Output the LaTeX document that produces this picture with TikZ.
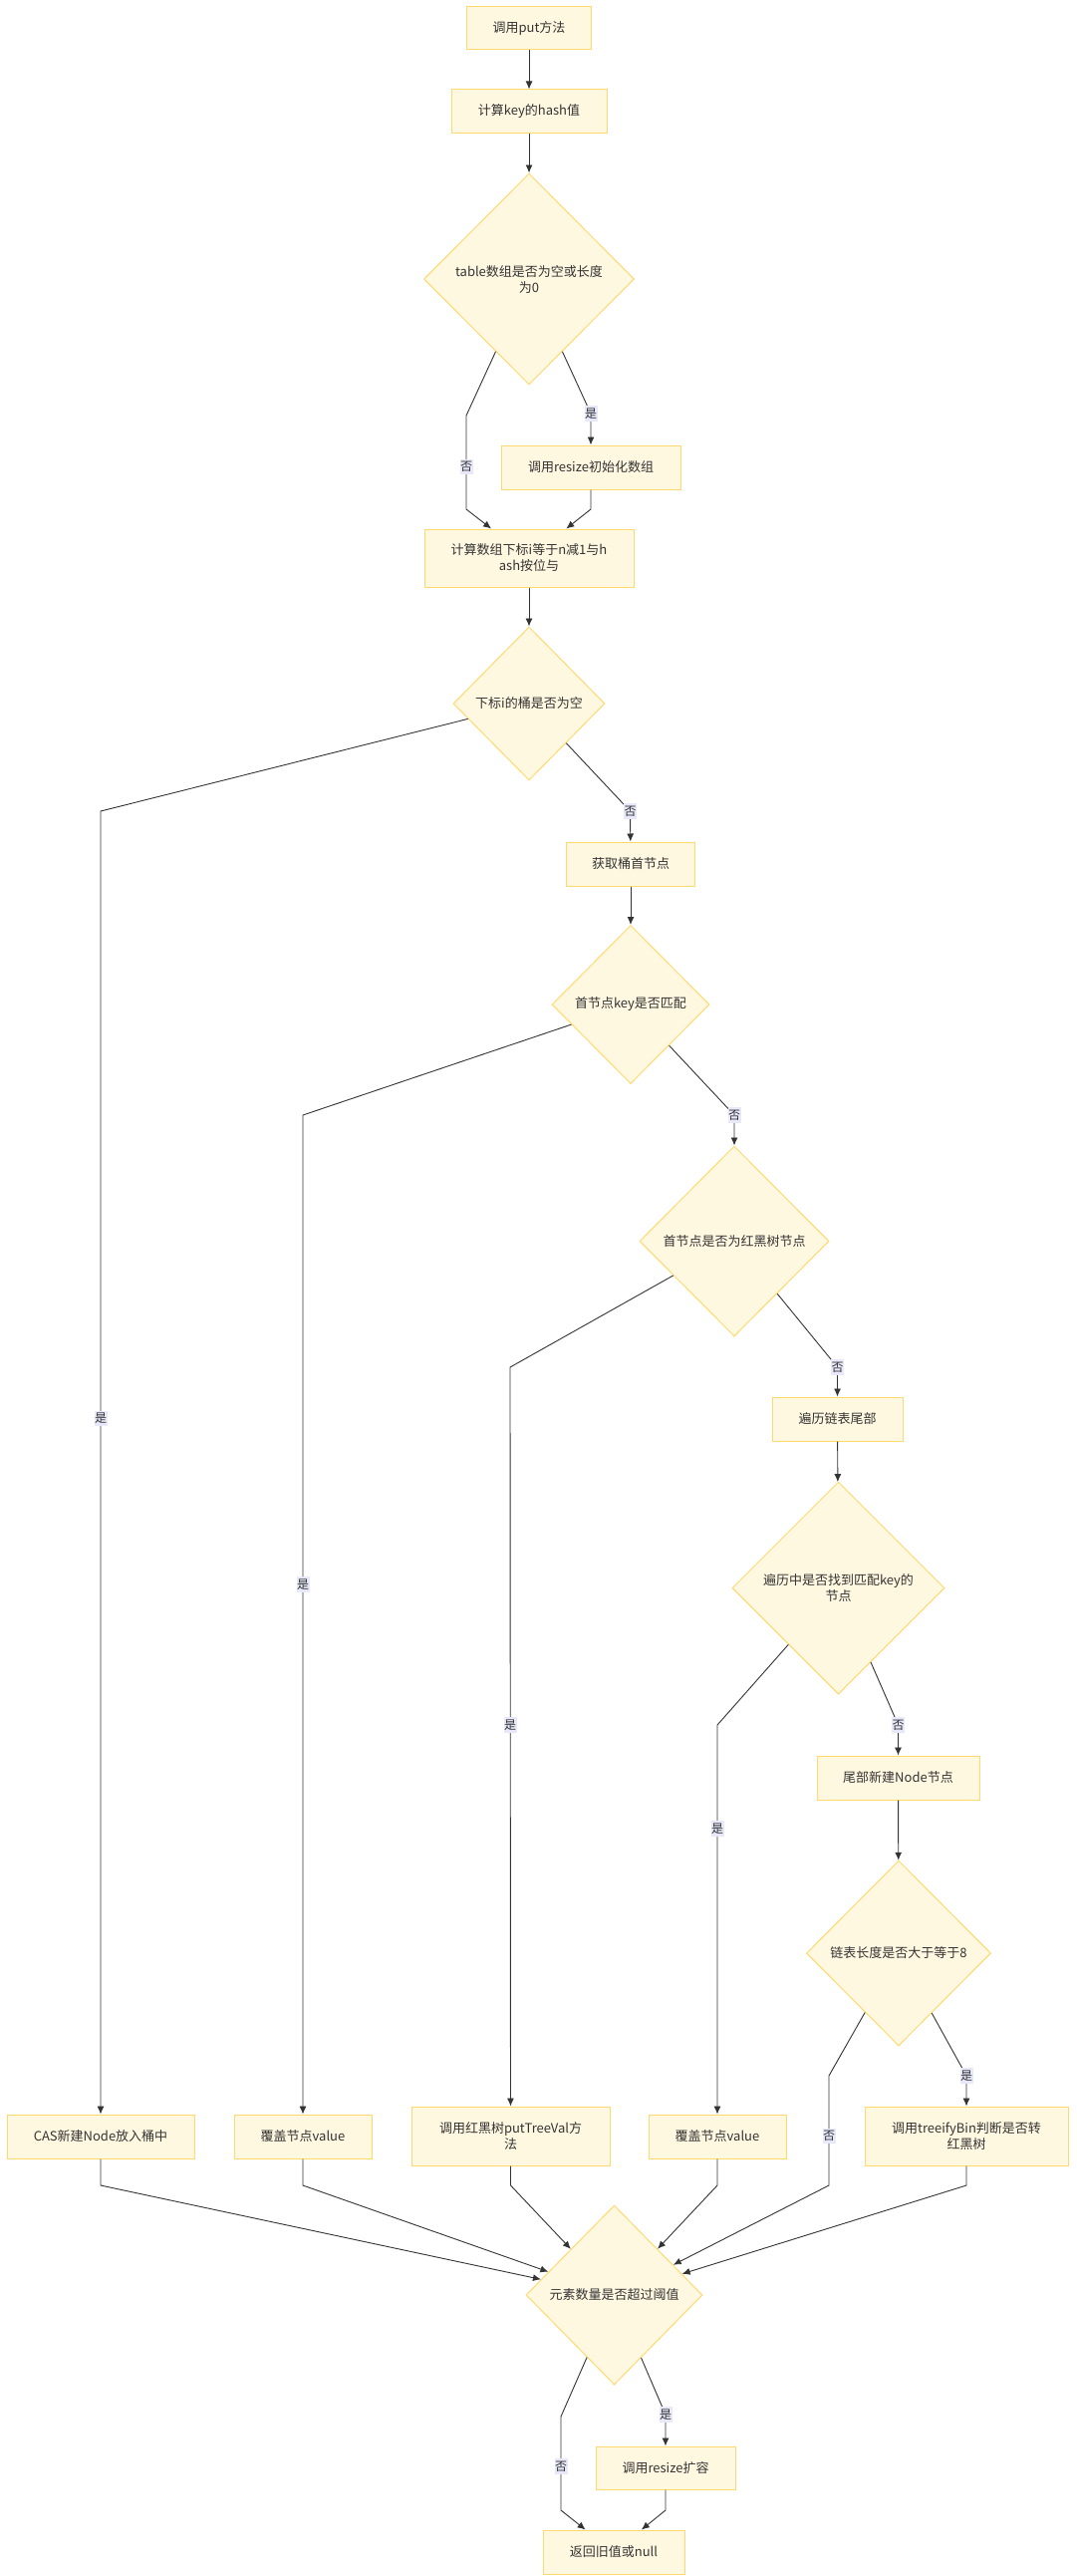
\documentclass[tikz,border=0pt]{standalone}
\usepackage{fontspec}
\usetikzlibrary{shapes.geometric,arrows.meta}
\newfontfamily\cjk{Noto Sans CJK SC}
\definecolor{nodefill}{HTML}{FFF8E1}
\definecolor{nodeline}{HTML}{FFD970}
\definecolor{edgeline}{HTML}{333333}
\definecolor{labelbg}{HTML}{E8E8FA}

\begin{document}
\begin{tikzpicture}[x=1pt, y=-1pt,
		font=\cjk\fontsize{13}{16}\selectfont, text=edgeline,
		box/.style={rectangle, fill=nodefill, draw=nodeline, line width=1pt, inner sep=0pt, align=center},
		choice/.style={diamond, fill=nodefill, draw=nodeline, line width=1pt, inner sep=0pt, align=center},
		flow/.style={draw=edgeline, line width=0.9pt, -{Latex[length=8pt,width=7pt]}},
		lbl/.style={fill=labelbg, inner xsep=0.5pt, inner ysep=2.5pt, font=\cjk\fontsize{12}{14}\selectfont}]
		\useasboundingbox (0,0) rectangle (1080,2585);

		\node[box, minimum width=125, minimum height=43] (S) at (531,28) {调用put方法};
		\node[box, minimum width=156, minimum height=44] (H) at (531,112) {计算key的hash值};
		\node[choice, minimum width=211, minimum height=212] (D1) at (531,280) {table数组是否为空或长度\\为0};
		\node[box, minimum width=180, minimum height=44] (R1) at (593,469) {调用resize初始化数组};
		\node[box, minimum width=210, minimum height=58] (IX) at (531,560) {计算数组下标i等于n减1与h\\ash按位与};
		\node[choice, minimum width=152, minimum height=154] (D2) at (531,706) {下标i的桶是否为空};
		\node[box, minimum width=129, minimum height=44] (G1) at (633,867) {获取桶首节点};
		\node[choice, minimum width=158, minimum height=159] (D3) at (633,1008) {首节点key是否匹配};
		\node[choice, minimum width=190, minimum height=191] (D4) at (737,1245.5) {首节点是否为红黑树节点};
		\node[box, minimum width=131, minimum height=44] (W1) at (840.5,1424) {遍历链表尾部};
		\node[choice, minimum width=213, minimum height=213] (D5) at (841.5,1593.5) {遍历中是否找到匹配key的\\节点};
		\node[box, minimum width=163, minimum height=44] (N1) at (901.5,1784) {尾部新建Node节点};
		\node[choice, minimum width=185, minimum height=186] (D6) at (902,1960) {链表长度是否大于等于8};

		\node[box, minimum width=188, minimum height=44] (C1) at (101,2144) {CAS新建Node放入桶中};
		\node[box, minimum width=138, minimum height=44] (V1) at (304,2144) {覆盖节点value};
		\node[box, minimum width=199, minimum height=59] (T1) at (512.5,2143.5) {调用红黑树putTreeVal方\\法};
		\node[box, minimum width=138, minimum height=44] (V2) at (720,2144) {覆盖节点value};
		\node[box, minimum width=204, minimum height=59] (TB) at (970,2143.5) {调用treeifyBin判断是否转\\红黑树};

		\node[choice, minimum width=177, minimum height=180] (D7) at (616.5,2303) {元素数量是否超过阈值};
		\node[box, minimum width=140, minimum height=43] (RZ) at (668,2476.5) {调用resize扩容};
		\node[box, minimum width=142, minimum height=44] (E) at (616,2561) {返回旧值或null};

		\draw [flow] (S) -- (H);
		\draw [flow] (H) -- (D1);
		\draw [flow] (D1) -- (593,415) node[lbl] (L1) {是} -- (R1);
		\draw [flow] (D1) -- (468,417) -- node[lbl, pos=0.55] (L2) {否} (468,511) -- (IX);
		\draw [flow] (R1.south) -- (593,511) -- (IX);
		\draw [flow] (IX) -- (D2);
		\draw [flow] (D2) -- (101,814) -- node[lbl, pos=0.466] (L3) {是} (C1);
		\draw [flow] (D2) -- (632.5,814) node[lbl] (L4) {否} -- (G1);
		\draw [flow] (G1) -- (D3);
		\draw [flow] (D3) -- (304,1119) -- node[lbl, pos=0.47] (L5) {是} (V1);
		\draw [flow] (D3) -- (737,1119) node[lbl] (L6) {否} -- (D4);
		\draw [flow] (D4) -- (512,1372) -- node[lbl, pos=0.484] (L7) {是} (T1);
		\draw [flow] (D4) -- (840.5,1372) node[lbl] (L8) {否} -- (W1);
		\draw [flow] (W1) -- (D5);
		\draw [flow] (D5) -- (720,1731) -- node[lbl, pos=0.266] (L9) {是} (V2);
		\draw [flow] (D5) -- (901.5,1731) node[lbl] (L10) {否} -- (N1);
		\draw [flow] (N1) -- (D6);
		\draw [flow] (D6) -- (832,2083) -- node[lbl, pos=0.55] (L11) {否} (832,2193) -- (D7);
		\draw [flow] (D6) -- (970,2083) node[lbl] (L12) {是} -- (TB);

		\draw [flow] (C1) -- (101,2193) -- (D7);
		\draw [flow] (V1) -- (304,2193) -- (D7);
		\draw [flow] (T1) -- (512.5,2193) -- (D7);
		\draw [flow] (V2) -- (720,2193) -- (D7);
		\draw [flow] (TB) -- (970,2193) -- (D7);

		\draw [flow] (D7) -- (668,2423) node[lbl] (L13) {是} -- (RZ);
		\draw [flow] (D7) -- (563,2425) -- node[lbl, pos=0.53] (L14) {否} (563,2519) -- (E);
		\draw [flow] (RZ) -- (668,2519) -- (E);
	\end{tikzpicture}
\end{document}
